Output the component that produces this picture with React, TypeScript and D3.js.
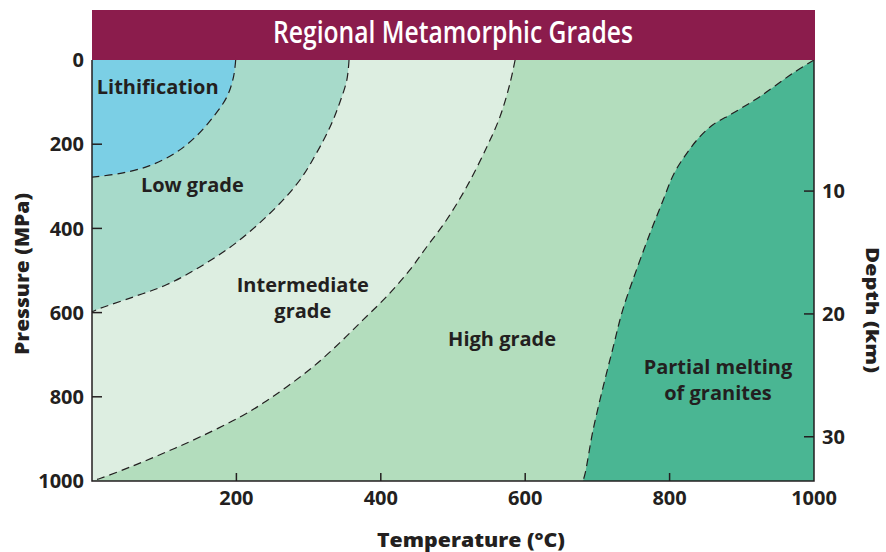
import React from "react";
import * as d3 from "d3";

// ---- data (Temperature °C, Pressure MPa) ----
const lithificationT = [199, 196, 187, 168, 145, 117, 80, 43, 7, 0];
const lithificationP = [0, 40, 87, 135, 180, 219, 251, 268, 277, 278];

const lowGradeT = [356, 353, 343, 330, 311, 288, 256, 202, 150, 103, 57, 11, 0];
const lowGradeP = [0, 47, 102, 158, 221, 285, 348, 431, 491, 534, 563, 590, 598];

const intermediateT = [586, 579, 565, 547, 519, 491, 464, 440, 408, 375, 343, 306, 270, 237, 205, 150, 103, 57, 11, 0];
const intermediateP = [0, 55, 135, 206, 301, 380, 443, 499, 562, 618, 672, 729, 776, 815, 848, 895, 931, 964, 994, 1000];

const meltingT = [1000, 971, 925, 888, 860, 842, 824, 806, 791, 773, 754, 735, 722, 708, 694, 683, 680];
const meltingP = [0, 31, 87, 126, 154, 182, 221, 270, 333, 411, 499, 594, 681, 776, 879, 982, 1000];

const tempTicks = [200, 400, 600, 800, 1000];
const pressureTicks = [0, 200, 400, 600, 800, 1000];
const depthTicks = [10, 20, 30];

const labels = [
  { lines: ["Lithification"], t: 91, p: 81 },
  { lines: ["Low grade"], t: 139, p: 314 },
  { lines: ["Intermediate", "grade"], t: 292, p: 550 },
  { lines: ["High grade"], t: 568, p: 679 },
  { lines: ["Partial melting", "of granites"], t: 867, p: 745 },
];

const COLORS = {
  title: "#8B1C4C",
  lith: "#7BCFE5",
  low: "#A7DACA",
  inter: "#DDEEE1",
  high: "#B3DDBD",
  melt: "#4AB693",
  ink: "#231F20",
};

const W = 886;
const H = 552;
const left = 92, right = 814, top = 60, bottom = 481;

const x = d3.scaleLinear().domain([0, 1000]).range([left, right]);
const y = d3.scaleLinear().domain([0, 1000]).range([top, bottom]);
const depth = d3.scaleLinear().domain([-0.67, 33.6]).range([top, bottom]);

const line = d3
  .line<[number, number]>()
  .x((d) => x(d[0]))
  .y((d) => y(d[1]))
  .curve(d3.curveCatmullRom.alpha(0.5));

const zip = (ts: number[], ps: number[]): [number, number][] => ts.map((t, i) => [t, ps[i]]);

const lith = zip(lithificationT, lithificationP);
const low = zip(lowGradeT, lowGradeP);
const inter = zip(intermediateT, intermediateP);
const melt = zip(meltingT, meltingP);

const region = (pts: [number, number][], corner: [number, number]) =>
  `${line(pts)}L${x(corner[0])},${y(corner[1])}Z`;

const font = "'Open Sans', 'Noto Sans', sans-serif";

export default function App() {
  return (
    <svg
      width={W}
      height={H}
      style={{ position: "absolute", left: 0, top: 0, background: "#fff" }}
      fontFamily={font}
    >
      {/* regions */}
      <rect x={left} y={top} width={right - left} height={bottom - top} fill={COLORS.high} />
      <path d={region(inter, [0, 0])} fill={COLORS.inter} />
      <path d={region(low, [0, 0])} fill={COLORS.low} />
      <path d={region(lith, [0, 0])} fill={COLORS.lith} />
      <path d={region(melt, [1000, 1000])} fill={COLORS.melt} />

      {/* dashed boundaries */}
      {[lith, low, inter, melt].map((pts, i) => (
        <path
          key={i}
          d={line(pts) || ""}
          fill="none"
          stroke={COLORS.ink}
          strokeWidth={1.2}
          strokeDasharray="8 5"
        />
      ))}

      {/* title bar */}
      <rect x={left} y={10} width={right - left + 1} height={50} fill={COLORS.title} />
      <text
        x={453}
        y={43}
        textAnchor="middle"
        fill="#fff"
        fontSize={30}
        fontWeight={600}
        textLength={360}
        lengthAdjust="spacingAndGlyphs"
      >
        Regional Metamorphic Grades
      </text>

      {/* frame */}
      <path
        d={`M${left},${top}V${bottom}H${right}V${top}`}
        fill="none"
        stroke={COLORS.ink}
        strokeWidth={1.5}
      />

      {/* left ticks */}
      {pressureTicks.map((p) => (
        <g key={"p" + p}>
          {p > 0 && p < 1000 && (
            <line x1={left} x2={left + 10} y1={y(p)} y2={y(p)} stroke={COLORS.ink} strokeWidth={1.5} />
          )}
          <text
            x={84}
            y={y(p)}
            dy="0.36em"
            textAnchor="end"
            fontSize={20}
            fontWeight={700}
            fill={COLORS.ink}
          >
            {p}
          </text>
        </g>
      ))}

      {/* bottom ticks */}
      {tempTicks.map((t) => (
        <g key={"t" + t}>
          {t < 1000 && (
            <line x1={x(t)} x2={x(t)} y1={bottom} y2={bottom - 8} stroke={COLORS.ink} strokeWidth={1.5} />
          )}
          <text x={x(t)} y={505} textAnchor="middle" fontSize={20} fontWeight={700} fill={COLORS.ink}>
            {t}
          </text>
        </g>
      ))}

      {/* right ticks (depth) */}
      {depthTicks.map((d) => (
        <g key={"d" + d}>
          <line x1={right - 10} x2={right} y1={depth(d)} y2={depth(d)} stroke={COLORS.ink} strokeWidth={1.5} />
          <text x={822} y={depth(d)} dy="0.36em" fontSize={20} fontWeight={700} fill={COLORS.ink}>
            {d}
          </text>
        </g>
      ))}

      {/* region labels */}
      {labels.map((l, i) => (
        <text
          key={i}
          x={x(l.t)}
          y={y(l.p)}
          textAnchor="middle"
          fontSize={20}
          fontWeight={700}
          fill={COLORS.ink}
        >
          {l.lines.map((s, j) => (
            <tspan key={j} x={x(l.t)} dy={j === 0 ? 0 : 26.5}>
              {s}
            </tspan>
          ))}
        </text>
      ))}

      {/* axis titles */}
      <text
        transform="translate(29,274) rotate(-90)"
        textAnchor="middle"
        fontSize={20}
        fontWeight={800}
        fill={COLORS.ink}
        textLength={162}
        lengthAdjust="spacingAndGlyphs"
      >
        Pressure (MPa)
      </text>
      <text
        transform="translate(866,310) rotate(90)"
        textAnchor="middle"
        fontSize={18}
        fontWeight={800}
        fill={COLORS.ink}
        textLength={126}
        lengthAdjust="spacingAndGlyphs"
      >
        Depth (km)
      </text>
      <text
        x={471}
        y={547}
        textAnchor="middle"
        fontSize={19.5}
        fontWeight={800}
        fill={COLORS.ink}
        textLength={188}
        lengthAdjust="spacingAndGlyphs"
      >
        Temperature (°C)
      </text>
    </svg>
  );
}
